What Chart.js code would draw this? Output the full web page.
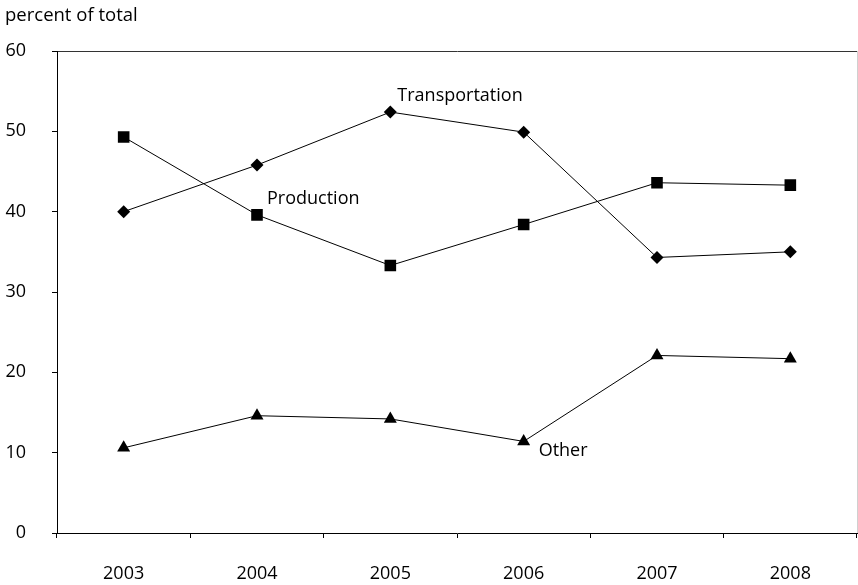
<!DOCTYPE html>
<html>
<head>
<meta charset="utf-8">
<script src="https://cdn.jsdelivr.net/npm/chart.js@4.4.0/dist/chart.umd.min.js"></script>
<style>
  html, body { margin: 0; padding: 0; background: #fff; }
  #wrap { width: 858px; height: 585px; position: relative; }
</style>
</head>
<body>
<div id="wrap"><canvas id="c" width="858" height="585"></canvas></div>
<script>
const years = ['2003', '2004', '2005', '2006', '2007', '2008'];
const transportation = [40.0, 45.8, 52.4, 49.9, 34.3, 35.0];
const production = [49.3, 39.6, 33.3, 38.4, 43.6, 43.3];
const other = [10.6, 14.6, 14.2, 11.4, 22.1, 21.7];
const yTicks = [0, 10, 20, 30, 40, 50, 60];
const unitLabel = 'percent of total';
const seriesLabels = [
  { text: 'Transportation', ds: 0, idx: 2, dx: 7, dy: -16 },
  { text: 'Production', ds: 1, idx: 1, dx: 10, dy: -16 },
  { text: 'Other', ds: 2, idx: 3, dx: 15, dy: 9 }
];

const FONT = '"Open Sans", sans-serif';

const annotate = {
  id: 'annotate',
  afterDraw(chart) {
    const ctx = chart.ctx;
    const a = chart.chartArea;
    ctx.save();
    ctx.strokeStyle = '#d0d0d0';
    ctx.lineWidth = 1;
    ctx.beginPath();
    ctx.moveTo(a.right + 0.5, a.top);
    ctx.lineTo(a.right + 0.5, a.bottom);
    ctx.stroke();
    ctx.fillStyle = '#000';
    ctx.font = '18.5px ' + FONT;
    ctx.textAlign = 'left';
    ctx.textBaseline = 'middle';
    ctx.fillText(unitLabel, 5, 16);
    ctx.font = '18px ' + FONT;
    seriesLabels.forEach(l => {
      const meta = chart.getDatasetMeta(l.ds);
      const pt = meta.data[l.idx];
      ctx.fillText(l.text, pt.x + l.dx, pt.y + l.dy);
    });
    ctx.restore();
  }
};

const common = {
  borderColor: '#000',
  backgroundColor: '#000',
  pointBackgroundColor: '#000',
  pointBorderColor: '#000',
  borderWidth: 1,
  pointBorderWidth: 0,
  tension: 0,
  fill: false
};

new Chart(document.getElementById('c'), {
  type: 'line',
  data: {
    labels: years,
    datasets: [
      Object.assign({ label: 'Transportation', data: transportation, pointStyle: 'rectRot', pointRadius: 6.5 }, common),
      Object.assign({ label: 'Production', data: production, pointStyle: 'rect', pointRadius: 8.2 }, common),
      Object.assign({ label: 'Other', data: other, pointStyle: 'triangle', pointRadius: 7.5 }, common)
    ]
  },
  options: {
    responsive: false,
    animation: false,
    layout: { autoPadding: false, padding: { top: 51, right: 1, left: 0, bottom: 0 } },
    plugins: {
      legend: { display: false },
      tooltip: { enabled: false }
    },
    scales: {
      x: {
        offset: true,
        grid: {
          offset: true,
          drawOnChartArea: false,
          tickLength: 5,
          tickColor: '#000'
        },
        border: { color: '#000', width: 1 },
        ticks: {
          color: '#000',
          font: { family: FONT, size: 18 },
          padding: 25,
          maxRotation: 0
        },
        afterFit(s) { s.height = 52; s.paddingLeft = 0; s.paddingRight = 0; }
      },
      y: {
        min: 0,
        max: 60,
        afterBuildTicks(s) { s.ticks = yTicks.map(v => ({ value: v })); },
        grid: {
          drawOnChartArea: true,
          color: (c) => (c.tick && c.tick.value === 60) ? '#333' : 'rgba(0,0,0,0)',
          tickLength: 5,
          tickColor: '#000'
        },
        border: { color: '#000', width: 1 },
        ticks: {
          color: '#000',
          font: { family: FONT, size: 18 },
          padding: 26
        },
        afterFit(s) { s.width = 57; s.paddingTop = 0; s.paddingBottom = 0; }
      }
    }
  },
  plugins: [annotate]
});
</script>
</body>
</html>
